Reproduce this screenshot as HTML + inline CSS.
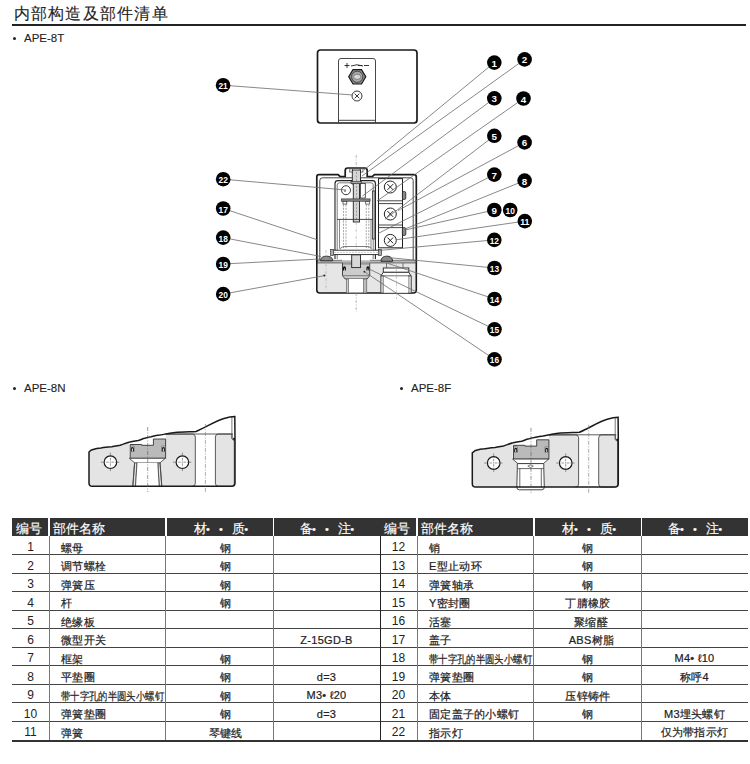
<!DOCTYPE html>
<html><head><meta charset="utf-8">
<style>
html,body{margin:0;padding:0;background:#fff;}
body{width:750px;height:764px;position:relative;overflow:hidden;font-family:"Liberation Sans",sans-serif;color:#222;}
.title{position:absolute;left:13.5px;top:2.5px;font-size:16px;line-height:22px;color:#222;letter-spacing:1.25px;-webkit-text-stroke:0.1px #222}
.uline{position:absolute;left:12px;top:24px;width:734px;height:2px;background:#222}
.sub{position:absolute;font-size:11.5px;line-height:12px;color:#222;-webkit-text-stroke:0.1px #222}
.bul{position:absolute;width:3px;height:3px;border-radius:50%;background:#222}
.hdbg{position:absolute;top:518px;height:18px;background:#333}
.ht{position:absolute;top:519.5px;height:18px;color:#fff;font-size:12.8px;line-height:18px;white-space:nowrap;-webkit-text-stroke:0.15px #fff;letter-spacing:0.1px}
.ht .d{font-size:11px;margin-left:-1px;margin-right:9px}
.ht .d2{font-size:11px;margin-right:9px}
.c{position:absolute;height:18.5px;line-height:18.5px;padding-top:2px;font-size:11px;letter-spacing:0.3px;color:#222;white-space:nowrap;-webkit-text-stroke:0.22px #222}
.small{font-size:10.8px;letter-spacing:0;transform:scaleX(0.85);transform-origin:0 0}
.num{text-align:center;font-size:12px;letter-spacing:0;-webkit-text-stroke:0}
.ctr{text-align:center}
.hl{position:absolute;height:1px;background:#444}
.hl.bot{height:2px;background:#333}
.vl{position:absolute;width:1px;background:#777}
.mid{position:absolute;left:379.5px;top:536px;width:1.5px;height:204px;background:#222}
</style></head><body>
<div class="title">内部构造及部件清单</div>
<div class="uline"></div>
<div class="bul" style="left:12.5px;top:37px"></div><div class="sub" style="left:24px;top:32px">APE-8T</div>
<div class="bul" style="left:12.5px;top:386.5px"></div><div class="sub" style="left:24px;top:381.5px">APE-8N</div>
<div class="bul" style="left:400px;top:386.5px"></div><div class="sub" style="left:411px;top:381.5px">APE-8F</div>
<svg style="position:absolute;left:0;top:0" width="750" height="764" viewBox="0 0 750 764">
<defs>
<g id="cross"><circle r="6" fill="#fff" stroke="#222" stroke-width="1"/><path d="M-2.9,-2.9L2.9,2.9M2.9,-2.9L-2.9,2.9" stroke="#222" stroke-width="1"/></g>
</defs>
<!-- ===== top cover view ===== -->
<rect x="317.5" y="50" width="99.5" height="73" rx="3" fill="#fff" stroke="#1a1a1a" stroke-width="1.7"/>
<path d="M338.5,123 V61 Q338.5,58.5 341,58.5 H373 Q375.5,58.5 375.5,61 V123" fill="none" stroke="#333" stroke-width="0.9"/>
<line x1="338.5" y1="120.3" x2="375.5" y2="120.3" stroke="#333" stroke-width="0.9"/>
<path d="M344.5,65.5 h5 M347,63 v5" stroke="#222" stroke-width="0.9"/>
<path d="M351,66 Q357,63.5 363,66 M364,65.5 h5 M358,65.5 h4" stroke="#222" stroke-width="0.9" fill="none"/>
<polygon points="348.7,76.8 353,69.6 361.5,69.6 365.8,76.8 361.5,84 353,84" fill="#8a8a8a" stroke="#1a1a1a" stroke-width="1.2"/>
<circle cx="357.2" cy="76.8" r="5.6" fill="#a8a8a8" stroke="#333" stroke-width="0.8"/>
<ellipse cx="357.2" cy="76.8" rx="3.6" ry="2.6" fill="#d8d8d8" stroke="#555" stroke-width="0.6"/>
<g transform="translate(357,96)"><circle r="5" fill="#fff" stroke="#222" stroke-width="0.9"/><path d="M-2.3,-2.3L2.3,2.3M2.3,-2.3L-2.3,2.3" stroke="#222" stroke-width="0.9"/></g>

<!-- ===== main body ===== -->
<!-- base -->
<path d="M316.8,262.5 H416.3 V290 Q416.3,293 413.3,293 H319.8 Q316.8,293 316.8,290 Z" fill="#e6e6e6" stroke="#1a1a1a" stroke-width="1.6"/>
<!-- port right -->
<rect x="383.3" y="268" width="25.5" height="4.3" fill="#fff" stroke="#222" stroke-width="0.9"/>
<path d="M383.3,272.3 H408.8 L411,276 H380.8 Z" fill="#fff" stroke="#222" stroke-width="0.9"/>
<rect x="380.8" y="276" width="2.8" height="17" fill="#c8c8c8" stroke="#333" stroke-width="0.7"/>
<rect x="408.5" y="276" width="2.8" height="17" fill="#c8c8c8" stroke="#333" stroke-width="0.7"/>
<rect x="383.6" y="276.4" width="24.9" height="16.4" fill="#fff"/>
<path d="M386.5,262.5 V268 M403,262.5 V268" stroke="#555" stroke-width="0.8"/>
<!-- piston -->
<path d="M342.5,262.3 H369.7 V275.7 L367,279 H345.2 L342.5,275.7 Z" fill="#cdcdcd" stroke="#333" stroke-width="0.9"/>
<rect x="343" y="262.5" width="26.2" height="2.2" fill="#999"/>
<line x1="343" y1="275.7" x2="369.2" y2="275.7" stroke="#555" stroke-width="0.7"/>
<path d="M342.9,270.6 v-2.6 a1.5,1.8 0 0 1 3,0 v2.6 h-1.1 v-1.8 a0.4,0.6 0 0 0 -0.8,0 v1.8 z M366.4,270.6 v-2.6 a1.5,1.8 0 0 1 3,0 v2.6 h-1.1 v-1.8 a0.4,0.6 0 0 0 -0.8,0 v1.8 z" fill="#111"/>
<rect x="348.7" y="279" width="14.8" height="13.5" fill="#fff"/>
<rect x="346.4" y="279" width="2.3" height="14" fill="#ccc" stroke="#555" stroke-width="0.6"/>
<rect x="363.5" y="279" width="3.3" height="14" fill="#bbb" stroke="#555" stroke-width="0.6"/>
<!-- flange band -->
<rect x="317.5" y="260.3" width="99" height="2.4" fill="#b8b8b8" stroke="none"/>
<line x1="317" y1="260.3" x2="342" y2="260.3" stroke="#555" stroke-width="0.7"/>
<line x1="370" y1="260.3" x2="416" y2="260.3" stroke="#555" stroke-width="0.7"/>
<rect x="351.7" y="254.8" width="8.8" height="12.8" fill="#d8d8d8" stroke="#222" stroke-width="0.9"/>
<!-- screw heads 18/19 -->
<path d="M320.6,260.8 C320.6,257.2 323.5,256.2 326.6,256.2 C329.8,256.2 332.7,257.2 332.7,260.8 Z" fill="#8a8a8a" stroke="#222" stroke-width="0.9"/>
<path d="M381,261.3 C381,257.5 383.8,256.2 386.8,256.2 C389.8,256.2 392.6,257.5 392.6,261.3 Z" fill="#8a8a8a" stroke="#222" stroke-width="0.9"/>
<!-- cover outline -->
<path d="M316.8,262.5 V177 Q316.8,174.7 319,174.7 H338 L340,176.5 H345.2 V170.5 Q345.2,168 347.7,168 H364.7 Q367.2,168 367.2,170.5 V176.5 H372.5 L374.5,174.7 H413.8 Q416.3,174.7 416.3,177 V262.5" fill="none" stroke="#1a1a1a" stroke-width="1.7"/>
<path d="M319.8,260 V180.5 Q319.8,177.8 322.5,177.8 H410.5 Q413.2,177.8 413.2,180.5 V260" fill="none" stroke="#333" stroke-width="0.9"/>
<!-- frame -->
<path d="M335,259 V183.5 Q335,180.6 338,180.6 H372.5 Q375.4,180.6 375.4,183.5 V259" fill="none" stroke="#222" stroke-width="1.1"/>
<path d="M337.2,259 V185 Q337.2,182.8 339.5,182.8 H371 Q373.2,182.8 373.2,185 V259" fill="none" stroke="#444" stroke-width="0.7"/>
<!-- shaft -->
<rect x="349.8" y="168.8" width="2.8" height="3.2" fill="#fff" stroke="#333" stroke-width="0.7"/>
<rect x="360.2" y="168.8" width="2.8" height="3.2" fill="#fff" stroke="#333" stroke-width="0.7"/>
<rect x="352.3" y="170" width="8.2" height="14" fill="#d5d5d5" stroke="#222" stroke-width="0.9"/>
<rect x="353.3" y="183" width="6.2" height="39" fill="#d5d5d5" stroke="#222" stroke-width="0.9"/>
<rect x="351" y="181.5" width="10.5" height="2.2" fill="#aaa" stroke="#222" stroke-width="0.6"/>
<rect x="360.5" y="183.5" width="4.8" height="14.5" fill="#fff" stroke="#333" stroke-width="0.8"/>
<line x1="356.5" y1="172" x2="356.5" y2="221" stroke="#777" stroke-width="0.6" stroke-dasharray="2,1.5"/>
<!-- indicator lamp -->
<circle cx="346" cy="190.2" r="4.5" fill="#fff" stroke="#222" stroke-width="0.9"/>
<circle cx="345" cy="191" r="0.8" fill="#222"/>
<!-- spring seat -->
<rect x="341.5" y="198.9" width="28.6" height="2.3" fill="#888" stroke="#222" stroke-width="0.6"/>
<rect x="343" y="201.5" width="3.8" height="2.6" fill="#fff" stroke="#333" stroke-width="0.7"/>
<rect x="365.7" y="201.5" width="3.8" height="2.6" fill="#fff" stroke="#333" stroke-width="0.7"/>
<path d="M343.5,204.5 V249 M346,204.5 V249 M366.3,204.5 V249 M368.8,204.5 V249" stroke="#6a6a6a" stroke-width="0.6" stroke-dasharray="2,1.2"/>
<line x1="337.2" y1="219.4" x2="373.2" y2="219.4" stroke="#333" stroke-width="0.9"/>
<line x1="339.5" y1="219.4" x2="339.5" y2="248.7" stroke="#555" stroke-width="0.7"/>
<line x1="371" y1="219.4" x2="371" y2="248.7" stroke="#555" stroke-width="0.7"/>
<path d="M340,248.7 Q342,246.5 345,246.5 H367 Q370,246.5 371.5,248.7" fill="none" stroke="#444" stroke-width="0.7"/>
<!-- diaphragm plate -->
<rect x="332" y="250.2" width="48.4" height="4.4" fill="#fff" stroke="#222" stroke-width="0.9"/>
<line x1="334" y1="252.4" x2="378" y2="252.4" stroke="#999" stroke-width="0.5" stroke-dasharray="2,1"/>
<rect x="330.6" y="249.5" width="3" height="6" fill="#aaa" stroke="#222" stroke-width="0.6"/>
<rect x="378.6" y="249.5" width="3" height="6" fill="#aaa" stroke="#222" stroke-width="0.6"/>
<!-- rod (item 11 pin) -->
<rect x="372.4" y="191" width="2.6" height="48" fill="#bbb" stroke="#222" stroke-width="0.7"/>
<!-- microswitch block -->
<rect x="378.5" y="178.6" width="24" height="69.2" fill="#fff" stroke="#222" stroke-width="1"/>
<line x1="378.5" y1="200.8" x2="402.5" y2="200.8" stroke="#333" stroke-width="0.9"/>
<line x1="378.5" y1="203.6" x2="402.5" y2="203.6" stroke="#333" stroke-width="0.9"/>
<line x1="378.5" y1="225" x2="402.5" y2="225" stroke="#333" stroke-width="0.9"/>
<line x1="378.5" y1="227.6" x2="402.5" y2="227.6" stroke="#333" stroke-width="0.9"/>
<use href="#cross" x="390.3" y="187"/>
<use href="#cross" x="390.3" y="214"/>
<use href="#cross" x="390.3" y="240.4"/>
<rect x="402.4" y="191.5" width="3.4" height="8" rx="1.5" fill="#888" stroke="#222" stroke-width="0.8"/>
<rect x="402.4" y="227.5" width="3.4" height="8" rx="1.5" fill="#888" stroke="#222" stroke-width="0.8"/>
<!-- centre lines -->
<line x1="356.2" y1="155" x2="356.2" y2="168" stroke="#888" stroke-width="0.6" stroke-dasharray="3,1.5,1,1.5"/>
<line x1="356.2" y1="222" x2="356.2" y2="250" stroke="#aaa" stroke-width="0.6" stroke-dasharray="3,1.5,1,1.5"/>
<line x1="356.2" y1="293" x2="356.2" y2="312" stroke="#888" stroke-width="0.6" stroke-dasharray="3,1.5,1,1.5"/>
<line x1="326" y1="250" x2="326" y2="290" stroke="#aaa" stroke-width="0.6" stroke-dasharray="3,1.5,1,1.5"/>
<line x1="396.5" y1="262" x2="396.5" y2="299" stroke="#aaa" stroke-width="0.6" stroke-dasharray="3,1.5,1,1.5"/>
</svg>
<svg style="position:absolute;left:0;top:0" width="750" height="764"><g stroke="#6a6a6a" stroke-width="0.8"><line x1="494.3" y1="62.6" x2="364" y2="170"/><line x1="524.6" y1="59.4" x2="362" y2="176"/><line x1="494.3" y1="98.3" x2="362.5" y2="196"/><line x1="523.5" y1="98.5" x2="377" y2="201"/><line x1="494.3" y1="135.8" x2="385" y2="219.3"/><line x1="524.6" y1="142.4" x2="398" y2="210.5"/><line x1="494.3" y1="174.6" x2="378.5" y2="233.3"/><line x1="524.6" y1="180.6" x2="405" y2="229"/><line x1="494.3" y1="210" x2="405" y2="230"/><line x1="524.8" y1="221.1" x2="396.7" y2="239.7"/><line x1="494.3" y1="239.9" x2="379.6" y2="250.4"/><line x1="494.5" y1="268" x2="389.6" y2="257.7"/><line x1="494.5" y1="299" x2="387.7" y2="263.3"/><line x1="494.5" y1="329.3" x2="369" y2="269"/><line x1="494.5" y1="359.4" x2="364.4" y2="271.7"/><line x1="223.2" y1="179.2" x2="346" y2="190"/><line x1="223.2" y1="208.5" x2="318" y2="240"/><line x1="223.2" y1="237.6" x2="321" y2="256.5"/><line x1="223.2" y1="264" x2="319.5" y2="259"/><line x1="223.2" y1="294.1" x2="324.4" y2="275.6"/><line x1="223.1" y1="85.2" x2="353" y2="95"/></g><circle cx="324.4" cy="275.6" r="1" fill="#222"/><circle cx="364.4" cy="271.7" r="0.9" fill="#222"/><g fill="#000"><circle cx="494.3" cy="62.6" r="7.3"/><circle cx="524.6" cy="59.4" r="7.3"/><circle cx="494.3" cy="98.3" r="7.3"/><circle cx="523.5" cy="98.5" r="7.3"/><circle cx="494.3" cy="135.8" r="7.3"/><circle cx="524.6" cy="142.4" r="7.3"/><circle cx="494.3" cy="174.6" r="7.3"/><circle cx="524.6" cy="180.6" r="7.3"/><circle cx="494.3" cy="210" r="7.3"/><circle cx="510.2" cy="210" r="7.3"/><circle cx="524.8" cy="221.1" r="7.3"/><circle cx="494.3" cy="239.9" r="7.3"/><circle cx="494.5" cy="268" r="7.3"/><circle cx="494.5" cy="299" r="7.3"/><circle cx="494.5" cy="329.3" r="7.3"/><circle cx="494.5" cy="359.4" r="7.3"/><circle cx="223.2" cy="179.2" r="7.3"/><circle cx="223.2" cy="208.5" r="7.3"/><circle cx="223.2" cy="237.6" r="7.3"/><circle cx="223.2" cy="264" r="7.3"/><circle cx="223.2" cy="294.1" r="7.3"/><circle cx="223.1" cy="85.2" r="7.3"/></g><g fill="#fff" font-family="Liberation Sans" font-weight="bold" font-size="9.8" text-anchor="middle"><text x="494.3" y="66.6" >1</text><text x="524.6" y="63.4" >2</text><text x="494.3" y="102.3" >3</text><text x="523.5" y="102.5" >4</text><text x="494.3" y="139.8" >5</text><text x="524.6" y="146.4" >6</text><text x="494.3" y="178.6" >7</text><text x="524.6" y="184.6" >8</text><text x="494.3" y="214.0" >9</text><text x="510.2" y="214.0" textLength="9.3" lengthAdjust="spacingAndGlyphs">10</text><text x="524.8" y="225.1" textLength="9.3" lengthAdjust="spacingAndGlyphs">11</text><text x="494.3" y="243.9" textLength="9.3" lengthAdjust="spacingAndGlyphs">12</text><text x="494.5" y="272.0" textLength="9.3" lengthAdjust="spacingAndGlyphs">13</text><text x="494.5" y="303.0" textLength="9.3" lengthAdjust="spacingAndGlyphs">14</text><text x="494.5" y="333.3" textLength="9.3" lengthAdjust="spacingAndGlyphs">15</text><text x="494.5" y="363.4" textLength="9.3" lengthAdjust="spacingAndGlyphs">16</text><text x="223.2" y="183.2" textLength="9.3" lengthAdjust="spacingAndGlyphs">22</text><text x="223.2" y="212.5" textLength="9.3" lengthAdjust="spacingAndGlyphs">17</text><text x="223.2" y="241.6" textLength="9.3" lengthAdjust="spacingAndGlyphs">18</text><text x="223.2" y="268.0" textLength="9.3" lengthAdjust="spacingAndGlyphs">19</text><text x="223.2" y="298.1" textLength="9.3" lengthAdjust="spacingAndGlyphs">20</text><text x="223.1" y="89.2" textLength="9.3" lengthAdjust="spacingAndGlyphs">21</text></g></svg><svg style="position:absolute;left:0;top:0" width="750" height="764"><g transform="translate(0,0)">
<path d="M89,452 L91.4,450 C95,448.8 98,448 101,447.9 C105,447.4 108,446.9 111.7,446.8 C115,446.3 117,445.8 120.2,445.2 C124,444 126,442.8 129.8,442 C133,441.2 135.5,440.8 138.3,440.4 C141,439.8 142.5,438.8 144.7,438.3 C147,437.5 149,437 151.1,436.7 C154,436 157,435.3 159.7,435.1 C163,434.6 168,433.3 175,432.5 C182,432 190,431.8 196,431.5 C205,428 215,421 224,418.5 C228,417.3 231,416.6 234.8,416.5 L235,439.2 L233.3,438.3 L235,440.5 L235,483 Q235,486.3 231.7,486.3 L92.3,486.3 Q89,486.3 89,483 Z" fill="#fff" stroke="none"/>
<path d="M89,452 L91.4,450 C95,448.8 98,448 101,447.9 C105,447.4 108,446.9 111.7,446.8 C115,446.3 117,445.8 120.2,445.2 C124,444 126,442.8 129.8,442 C133,441.2 135.5,440.8 138.3,440.4 C141,439.8 142.5,438.8 144.7,438.3 C147,437.5 149,437 151.1,436.7 C154,436 157,435.3 159.7,435.1 C162,434.7 164,434.4 165.3,434.2 L192.3,434 Q195.3,434 195.3,437 L195.3,483.3 Q195.3,486.3 192.3,486.3 L92.3,486.3 Q89,486.3 89,483 Z" fill="#e4e4e4" stroke="none"/>
<path d="M165.3,434.2 L192.3,434 Q195.3,434 195.3,437 L195.3,483.3 Q195.3,486.3 192.3,486.3" fill="none" stroke="#333" stroke-width="0.8"/>
<path d="M218.4,434 L232,434 L232,439 L234.3,440.6 L234.3,483.3 Q234.3,486.3 231.3,486.3 L218.4,486.3 Q215.4,486.3 215.4,483.3 L215.4,437 Q215.4,434 218.4,434 Z" fill="#e4e4e4" stroke="#333" stroke-width="0.8"/>
<line x1="165" y1="434" x2="233" y2="434" stroke="#333" stroke-width="0.8"/>
<path d="M231.9,417 V438.5" stroke="#555" stroke-width="0.8"/>
<circle cx="110.4" cy="462.2" r="6.3" fill="#fff" stroke="#1a1a1a" stroke-width="1.2"/>
<path d="M100.9,462.2 H119.9 M110.4,452.7 V471.7" stroke="#555" stroke-width="0.6" stroke-dasharray="2.5,1,0.8,1"/>
<circle cx="182.4" cy="462.2" r="6.3" fill="#fff" stroke="#1a1a1a" stroke-width="1.2"/>
<path d="M172.9,462.2 H191.9 M182.4,452.7 V471.7" stroke="#555" stroke-width="0.6" stroke-dasharray="2.5,1,0.8,1"/>
<rect x="129.3" y="430" width="36.3" height="28.3" fill="#fff"/>
<path d="M130.2,444.5 L141.6,444.5 L141.6,445.3 L153.4,445.3 L153.4,439 L165.6,439 L165.6,458.3 L130.2,458.3 Z" fill="#bababa" stroke="#333" stroke-width="0.9"/>
<path d="M130.6,446 h3.6 v5.5 h-3.6 z M161.6,446 h3.6 v5.5 h-3.6 z" fill="#d0d0d0" stroke="#555" stroke-width="0.5"/>
<path d="M130.9,451.3 v-2.6 a1.5,1.8 0 0 1 3,0 v2.6 h-0.9 v-2.2 a0.6,0.8 0 0 0 -1.2,0 v2.2 z M161.9,451.3 v-2.6 a1.5,1.8 0 0 1 3,0 v2.6 h-0.9 v-2.2 a0.6,0.8 0 0 0 -1.2,0 v2.2 z" fill="#111"/>
<path d="M129.3,458.3 L134.6,462.8 L160,462.8 L165.3,458.3 Z" fill="#fff" stroke="#333" stroke-width="0.8"/>
<path d="M134.6,462.8 L132.8,486.3 M137,462.8 L135.5,486.3 M160,462.8 L161.8,486.3 M157.8,462.8 L159.2,486.3" stroke="#333" stroke-width="0.8"/>
<path d="M137,462.8 L135.5,486.3 L159.2,486.3 L157.8,462.8 Z" fill="#fff"/>
<path d="M134.6,462.8 L132.8,486.3 M137,462.8 L135.5,486.3 M160,462.8 L161.8,486.3 M157.8,462.8 L159.2,486.3" stroke="#444" stroke-width="0.8"/>
<path d="M89,452 L91.4,450 C95,448.8 98,448 101,447.9 C105,447.4 108,446.9 111.7,446.8 C115,446.3 117,445.8 120.2,445.2 C124,444 126,442.8 129.8,442 C133,441.2 135.5,440.8 138.3,440.4 C141,439.8 142.5,438.8 144.7,438.3 C147,437.5 149,437 151.1,436.7 C154,436 157,435.3 159.7,435.1 C163,434.6 168,433.3 175,432.5 C182,432 190,431.8 196,431.5 C205,428 215,421 224,418.5 C228,417.3 231,416.6 234.8,416.5 L235,439.2 L233.3,438.3 L235,440.5 L235,483 Q235,486.3 231.7,486.3 L92.3,486.3 Q89,486.3 89,483 Z" fill="none" stroke="#1a1a1a" stroke-width="1.5"/>
<path d="M147.7,427 V492" stroke="#555" stroke-width="0.6" stroke-dasharray="4,1.5,1,1.5"/>
<path d="M205.4,424 V492" stroke="#777" stroke-width="0.6" stroke-dasharray="4,1.5,1,1.5"/>
</g><g transform="translate(383.3,0.8)">
<path d="M89,452 L91.4,450 C95,448.8 98,448 101,447.9 C105,447.4 108,446.9 111.7,446.8 C115,446.3 117,445.8 120.2,445.2 C124,444 126,442.8 129.8,442 C133,441.2 135.5,440.8 138.3,440.4 C141,439.8 142.5,438.8 144.7,438.3 C147,437.5 149,437 151.1,436.7 C154,436 157,435.3 159.7,435.1 C163,434.6 168,433.3 175,432.5 C182,432 190,431.8 196,431.5 C205,428 215,421 224,418.5 C228,417.3 231,416.6 234.8,416.5 L235,439.2 L233.3,438.3 L235,440.5 L235,483 Q235,486.3 231.7,486.3 L92.3,486.3 Q89,486.3 89,483 Z" fill="#fff" stroke="none"/>
<path d="M89,452 L91.4,450 C95,448.8 98,448 101,447.9 C105,447.4 108,446.9 111.7,446.8 C115,446.3 117,445.8 120.2,445.2 C124,444 126,442.8 129.8,442 C133,441.2 135.5,440.8 138.3,440.4 C141,439.8 142.5,438.8 144.7,438.3 C147,437.5 149,437 151.1,436.7 C154,436 157,435.3 159.7,435.1 C162,434.7 164,434.4 165.3,434.2 L192.3,434 Q195.3,434 195.3,437 L195.3,483.3 Q195.3,486.3 192.3,486.3 L92.3,486.3 Q89,486.3 89,483 Z" fill="#e4e4e4" stroke="none"/>
<path d="M165.3,434.2 L192.3,434 Q195.3,434 195.3,437 L195.3,483.3 Q195.3,486.3 192.3,486.3" fill="none" stroke="#333" stroke-width="0.8"/>
<path d="M218.4,434 L232,434 L232,439 L234.3,440.6 L234.3,483.3 Q234.3,486.3 231.3,486.3 L218.4,486.3 Q215.4,486.3 215.4,483.3 L215.4,437 Q215.4,434 218.4,434 Z" fill="#e4e4e4" stroke="#333" stroke-width="0.8"/>
<line x1="165" y1="434" x2="233" y2="434" stroke="#333" stroke-width="0.8"/>
<path d="M231.9,417 V438.5" stroke="#555" stroke-width="0.8"/>
<circle cx="110.4" cy="462.2" r="6.3" fill="#fff" stroke="#1a1a1a" stroke-width="1.2"/>
<path d="M100.9,462.2 H119.9 M110.4,452.7 V471.7" stroke="#555" stroke-width="0.6" stroke-dasharray="2.5,1,0.8,1"/>
<circle cx="182.4" cy="462.2" r="6.3" fill="#fff" stroke="#1a1a1a" stroke-width="1.2"/>
<path d="M172.9,462.2 H191.9 M182.4,452.7 V471.7" stroke="#555" stroke-width="0.6" stroke-dasharray="2.5,1,0.8,1"/>
<rect x="129.3" y="430" width="36.3" height="28.3" fill="#fff"/>
<path d="M130.2,444.5 L141.6,444.5 L141.6,445.3 L153.4,445.3 L153.4,439 L165.6,439 L165.6,458.3 L130.2,458.3 Z" fill="#bababa" stroke="#333" stroke-width="0.9"/>
<path d="M130.6,446 h3.6 v5.5 h-3.6 z M161.6,446 h3.6 v5.5 h-3.6 z" fill="#d0d0d0" stroke="#555" stroke-width="0.5"/>
<path d="M130.9,451.3 v-2.6 a1.5,1.8 0 0 1 3,0 v2.6 h-0.9 v-2.2 a0.6,0.8 0 0 0 -1.2,0 v2.2 z M161.9,451.3 v-2.6 a1.5,1.8 0 0 1 3,0 v2.6 h-0.9 v-2.2 a0.6,0.8 0 0 0 -1.2,0 v2.2 z" fill="#111"/>
<path d="M129.3,458.3 L134.6,462.8 L160,462.8 L165.3,458.3 Z" fill="#fff" stroke="#333" stroke-width="0.8"/>
<path d="M134,462.8 L134,468 L133.5,486.5 Q133.5,489 136,489 L158.5,489 Q161,489 161,486.5 L160.5,468 L160.5,462.8 Z" fill="#fff" stroke="#333" stroke-width="0.9"/>
<path d="M134,467.8 H160.5 M136.5,468 V486.5 M158,468 V486.5" stroke="#444" stroke-width="0.8"/>
<path d="M144.5,465.3 L147.3,463.8 L150,465.3 L147.3,466.8 Z" fill="none" stroke="#333" stroke-width="0.6"/>
<path d="M89,452 L91.4,450 C95,448.8 98,448 101,447.9 C105,447.4 108,446.9 111.7,446.8 C115,446.3 117,445.8 120.2,445.2 C124,444 126,442.8 129.8,442 C133,441.2 135.5,440.8 138.3,440.4 C141,439.8 142.5,438.8 144.7,438.3 C147,437.5 149,437 151.1,436.7 C154,436 157,435.3 159.7,435.1 C163,434.6 168,433.3 175,432.5 C182,432 190,431.8 196,431.5 C205,428 215,421 224,418.5 C228,417.3 231,416.6 234.8,416.5 L235,439.2 L233.3,438.3 L235,440.5 L235,483 Q235,486.3 231.7,486.3 L92.3,486.3 Q89,486.3 89,483 Z" fill="none" stroke="#1a1a1a" stroke-width="1.5"/>
<path d="M147.7,427 V492" stroke="#555" stroke-width="0.6" stroke-dasharray="4,1.5,1,1.5"/>
<path d="M205.4,424 V492" stroke="#777" stroke-width="0.6" stroke-dasharray="4,1.5,1,1.5"/>
</g></svg>
<div class="hdbg" style="left:12px;width:36px"></div>
<div class="hdbg" style="left:50px;width:114.5px"></div>
<div class="hdbg" style="left:166.5px;width:106px"></div>
<div class="hdbg" style="left:274px;width:106px"></div>
<div class="ht" style="left:16px">编号</div>
<div class="ht" style="left:53px">部件名称</div>
<div class="ht" style="left:194px">材<span class="d">•</span><span class="d2">•</span>质<span class="d">•</span></div>
<div class="ht" style="left:300px">备<span class="d">•</span><span class="d2">•</span>注<span class="d">•</span></div>
<div class="c num" style="left:12px;top:536.00px;width:37px">1</div>
<div class="c nm" style="left:61px;top:536.50px">螺母</div>
<div class="c ctr" style="left:172px;top:536.50px;width:107px">钢</div>
<div class="c ctr" style="left:273px;top:536.00px;width:107px"></div>
<div class="hl" style="left:12px;top:554.05px;width:368px"></div>
<div class="c num" style="left:12px;top:554.55px;width:37px">2</div>
<div class="c nm" style="left:61px;top:555.05px">调节螺栓</div>
<div class="c ctr" style="left:172px;top:555.05px;width:107px">钢</div>
<div class="c ctr" style="left:273px;top:554.55px;width:107px"></div>
<div class="hl" style="left:12px;top:572.59px;width:368px"></div>
<div class="c num" style="left:12px;top:573.09px;width:37px">3</div>
<div class="c nm" style="left:61px;top:573.59px">弹簧压</div>
<div class="c ctr" style="left:172px;top:573.59px;width:107px">钢</div>
<div class="c ctr" style="left:273px;top:573.09px;width:107px"></div>
<div class="hl" style="left:12px;top:591.14px;width:368px"></div>
<div class="c num" style="left:12px;top:591.64px;width:37px">4</div>
<div class="c nm" style="left:61px;top:592.14px">杆</div>
<div class="c ctr" style="left:172px;top:592.14px;width:107px">钢</div>
<div class="c ctr" style="left:273px;top:591.64px;width:107px"></div>
<div class="hl" style="left:12px;top:609.68px;width:368px"></div>
<div class="c num" style="left:12px;top:610.18px;width:37px">5</div>
<div class="c nm" style="left:61px;top:610.68px">绝缘板</div>
<div class="c ctr" style="left:172px;top:610.68px;width:107px"></div>
<div class="c ctr" style="left:273px;top:610.18px;width:107px"></div>
<div class="hl" style="left:12px;top:628.23px;width:368px"></div>
<div class="c num" style="left:12px;top:628.73px;width:37px">6</div>
<div class="c nm" style="left:61px;top:629.23px">微型开关</div>
<div class="c ctr" style="left:172px;top:629.23px;width:107px"></div>
<div class="c ctr" style="left:273px;top:628.73px;width:107px">Z-15GD-B</div>
<div class="hl" style="left:12px;top:646.77px;width:368px"></div>
<div class="c num" style="left:12px;top:647.27px;width:37px">7</div>
<div class="c nm" style="left:61px;top:647.77px">框架</div>
<div class="c ctr" style="left:172px;top:647.77px;width:107px">钢</div>
<div class="c ctr" style="left:273px;top:647.27px;width:107px"></div>
<div class="hl" style="left:12px;top:665.32px;width:368px"></div>
<div class="c num" style="left:12px;top:665.82px;width:37px">8</div>
<div class="c nm" style="left:61px;top:666.32px">平垫圈</div>
<div class="c ctr" style="left:172px;top:666.32px;width:107px">钢</div>
<div class="c ctr" style="left:273px;top:665.82px;width:107px">d=3</div>
<div class="hl" style="left:12px;top:683.86px;width:368px"></div>
<div class="c num" style="left:12px;top:684.36px;width:37px">9</div>
<div class="c nm small" style="left:61px;top:684.86px">带十字孔的半圆头小螺钉</div>
<div class="c ctr" style="left:172px;top:684.86px;width:107px">钢</div>
<div class="c ctr" style="left:273px;top:684.36px;width:107px">M3• ℓ20</div>
<div class="hl" style="left:12px;top:702.41px;width:368px"></div>
<div class="c num" style="left:12px;top:702.91px;width:37px">10</div>
<div class="c nm" style="left:61px;top:703.41px">弹簧垫圈</div>
<div class="c ctr" style="left:172px;top:703.41px;width:107px">钢</div>
<div class="c ctr" style="left:273px;top:702.91px;width:107px">d=3</div>
<div class="hl" style="left:12px;top:720.95px;width:368px"></div>
<div class="c num" style="left:12px;top:721.45px;width:37px">11</div>
<div class="c nm" style="left:61px;top:721.95px">弹簧</div>
<div class="c ctr" style="left:172px;top:721.95px;width:107px">琴键线</div>
<div class="c ctr" style="left:273px;top:721.45px;width:107px"></div>
<div class="hl bot" style="left:12px;top:739.50px;width:368px"></div>
<div class="vl" style="left:48.5px;top:536.0px;height:204.0px"></div>
<div class="vl" style="left:165.0px;top:536.0px;height:204.0px"></div>
<div class="vl" style="left:272.5px;top:536.0px;height:204.0px"></div>
<div class="hdbg" style="left:380px;width:36px"></div>
<div class="hdbg" style="left:418px;width:114.5px"></div>
<div class="hdbg" style="left:534.5px;width:106px"></div>
<div class="hdbg" style="left:642px;width:106px"></div>
<div class="ht" style="left:384px">编号</div>
<div class="ht" style="left:421px">部件名称</div>
<div class="ht" style="left:562px">材<span class="d">•</span><span class="d2">•</span>质<span class="d">•</span></div>
<div class="ht" style="left:668px">备<span class="d">•</span><span class="d2">•</span>注<span class="d">•</span></div>
<div class="c num" style="left:380px;top:536.00px;width:37px">12</div>
<div class="c nm" style="left:429px;top:536.50px">销</div>
<div class="c ctr" style="left:534.5px;top:536.50px;width:107px">钢</div>
<div class="c ctr" style="left:641px;top:536.00px;width:107px"></div>
<div class="hl" style="left:380px;top:554.05px;width:368px"></div>
<div class="c num" style="left:380px;top:554.55px;width:37px">13</div>
<div class="c nm" style="left:429px;top:555.05px">E型止动环</div>
<div class="c ctr" style="left:534.5px;top:555.05px;width:107px">钢</div>
<div class="c ctr" style="left:641px;top:554.55px;width:107px"></div>
<div class="hl" style="left:380px;top:572.59px;width:368px"></div>
<div class="c num" style="left:380px;top:573.09px;width:37px">14</div>
<div class="c nm" style="left:429px;top:573.59px">弹簧轴承</div>
<div class="c ctr" style="left:534.5px;top:573.59px;width:107px">钢</div>
<div class="c ctr" style="left:641px;top:573.09px;width:107px"></div>
<div class="hl" style="left:380px;top:591.14px;width:368px"></div>
<div class="c num" style="left:380px;top:591.64px;width:37px">15</div>
<div class="c nm" style="left:429px;top:592.14px">Y密封圈</div>
<div class="c ctr" style="left:534.5px;top:592.14px;width:107px">丁腈橡胶</div>
<div class="c ctr" style="left:641px;top:591.64px;width:107px"></div>
<div class="hl" style="left:380px;top:609.68px;width:368px"></div>
<div class="c num" style="left:380px;top:610.18px;width:37px">16</div>
<div class="c nm" style="left:429px;top:610.68px">活塞</div>
<div class="c ctr" style="left:534.5px;top:610.68px;width:107px"><span style='margin-left:6px'>聚缩醛</span></div>
<div class="c ctr" style="left:641px;top:610.18px;width:107px"></div>
<div class="hl" style="left:380px;top:628.23px;width:368px"></div>
<div class="c num" style="left:380px;top:628.73px;width:37px">17</div>
<div class="c nm" style="left:429px;top:629.23px">盖子</div>
<div class="c ctr" style="left:534.5px;top:629.23px;width:107px"><span style='margin-left:7px'>ABS树脂</span></div>
<div class="c ctr" style="left:641px;top:628.73px;width:107px"></div>
<div class="hl" style="left:380px;top:646.77px;width:368px"></div>
<div class="c num" style="left:380px;top:647.27px;width:37px">18</div>
<div class="c nm small" style="left:429px;top:647.77px">带十字孔的半圆头小螺钉</div>
<div class="c ctr" style="left:534.5px;top:647.77px;width:107px">钢</div>
<div class="c ctr" style="left:641px;top:647.27px;width:107px">M4• ℓ10</div>
<div class="hl" style="left:380px;top:665.32px;width:368px"></div>
<div class="c num" style="left:380px;top:665.82px;width:37px">19</div>
<div class="c nm" style="left:429px;top:666.32px">弹簧垫圈</div>
<div class="c ctr" style="left:534.5px;top:666.32px;width:107px">钢</div>
<div class="c ctr" style="left:641px;top:665.82px;width:107px">称呼4</div>
<div class="hl" style="left:380px;top:683.86px;width:368px"></div>
<div class="c num" style="left:380px;top:684.36px;width:37px">20</div>
<div class="c nm" style="left:429px;top:684.86px">本体</div>
<div class="c ctr" style="left:534.5px;top:684.86px;width:107px">压锌铸件</div>
<div class="c ctr" style="left:641px;top:684.36px;width:107px"></div>
<div class="hl" style="left:380px;top:702.41px;width:368px"></div>
<div class="c num" style="left:380px;top:702.91px;width:37px">21</div>
<div class="c nm" style="left:429px;top:703.41px">固定盖子的小螺钉</div>
<div class="c ctr" style="left:534.5px;top:703.41px;width:107px">钢</div>
<div class="c ctr" style="left:641px;top:702.91px;width:107px">M3埋头螺钉</div>
<div class="hl" style="left:380px;top:720.95px;width:368px"></div>
<div class="c num" style="left:380px;top:721.45px;width:37px">22</div>
<div class="c nm" style="left:429px;top:721.95px">指示灯</div>
<div class="c ctr" style="left:534.5px;top:721.95px;width:107px"></div>
<div class="c ctr" style="left:641px;top:721.45px;width:107px">仅为带指示灯</div>
<div class="hl bot" style="left:380px;top:739.50px;width:368px"></div>
<div class="vl" style="left:416.5px;top:536.0px;height:204.0px"></div>
<div class="vl" style="left:533.0px;top:536.0px;height:204.0px"></div>
<div class="vl" style="left:640.5px;top:536.0px;height:204.0px"></div>
<div class="mid"></div>
</body></html>
